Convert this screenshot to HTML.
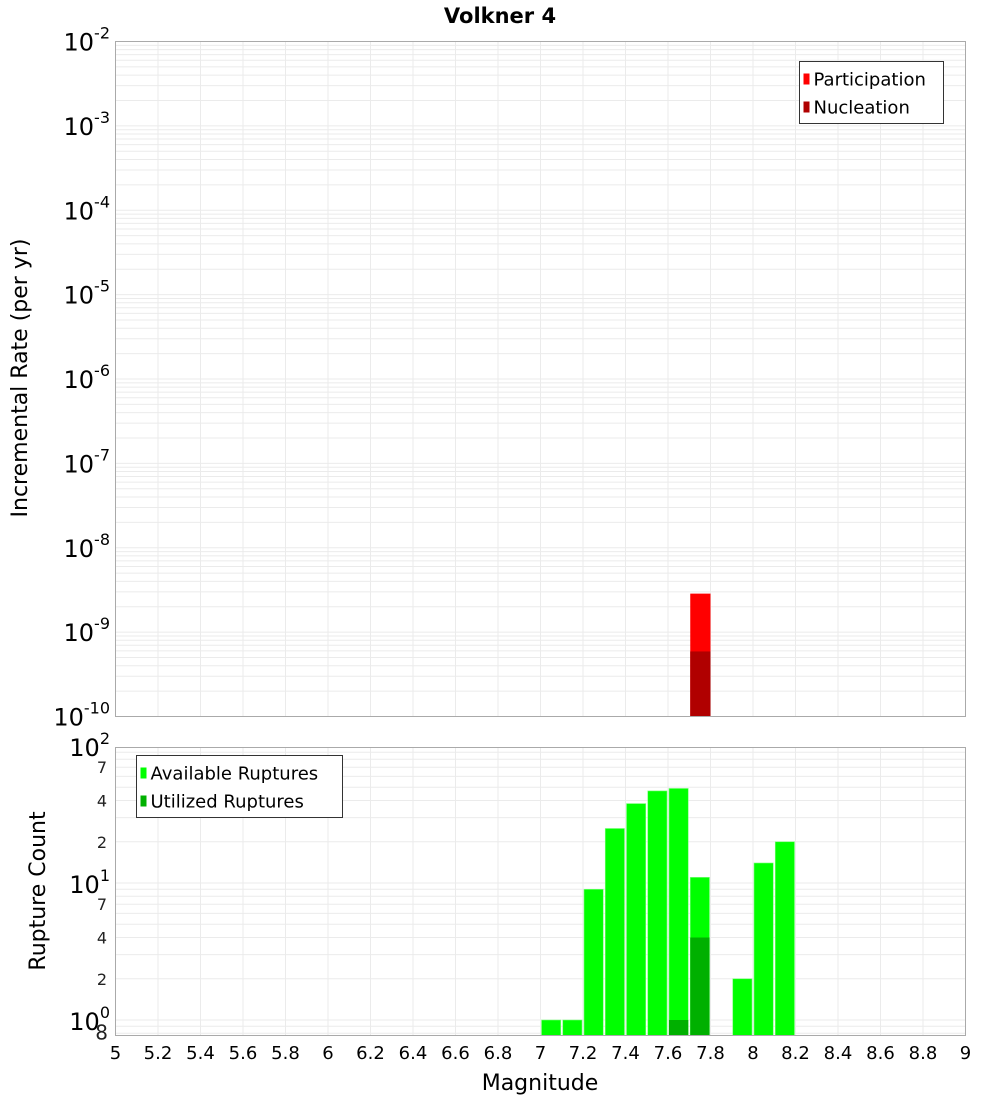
<!DOCTYPE html>
<html><head><meta charset="utf-8"><style>
body{margin:0;background:#fff;}
svg{display:block;font-family:"DejaVu Sans","Liberation Sans",sans-serif;}
</style></head><body>
<svg id="chart" width="1000" height="1100" xmlns="http://www.w3.org/2000/svg">
<text x="500" y="23" text-anchor="middle" font-size="21" font-weight="bold">Volkner 4</text>
<text transform="translate(27,378) rotate(-90)" text-anchor="middle" font-size="22">Incremental Rate (per yr)</text>
<text transform="translate(45,891) rotate(-90)" text-anchor="middle" font-size="22">Rupture Count</text>
<text x="540" y="1090" text-anchor="middle" font-size="22">Magnitude</text>
<g id="g"></g>
</svg>
<script>
const binStarts=[7.0,7.1,7.2,7.3,7.4,7.5,7.6,7.7,7.8,7.9,8.0,8.1];
const available=[1,1,9,25,38,47,49,11,0,2,14,20];
const utilized=[0,0,0,0,0,0,1,4,0,0,0,0];
const rateBins=[7.7];
const participation=[2.86e-9];
const nucleation=[5.9e-10];
const xTicks=[5,5.2,5.4,5.6,5.8,6,6.2,6.4,6.6,6.8,7,7.2,7.4,7.6,7.8,8,8.2,8.4,8.6,8.8,9];
const topDecades=[-2,-3,-4,-5,-6,-7,-8,-9,-10];
const botMinorLabels=[2,4,7];

const NS="http://www.w3.org/2000/svg";
const g=document.getElementById('g');
function el(t,a,p){const e=document.createElementNS(NS,t);for(const k in a)e.setAttribute(k,a[k]);(p||g).appendChild(e);return e;}
const L=115.5,R=965.5;
const X=v=>L+(v-5)/4*(R-L);
const T0=41.5,T1=716.5;
const YT=v=>T1-(Math.log10(v)+10)/8*(T1-T0);
const B0=747.5,B1=1035.5;
const YB=v=>1020-Math.log10(v)*137;

// grids
for(const t of xTicks){
  for(const [a,b] of [[T0,T1],[B0,B1]]){
    const l=el('line',{x1:X(t),x2:X(t),y1:a,y2:b,stroke:'#ebebeb'});
    
    
  }
}
for(let d=-10;d<-2;d++){for(let m=1;m<10;m++){const y=YT(m*Math.pow(10,d));
  const l=el('line',{x1:L,x2:R,y1:y,y2:y,stroke:'#ebebeb'});
  
  }}
for(let d=-1;d<2;d++){for(let m=1;m<10;m++){const v=m*Math.pow(10,d);const y=YB(v);if(y>B1||y<B0)continue;
  const l=el('line',{x1:L,x2:R,y1:y,y2:y,stroke:'#ebebeb'});
  
  }}

// top bars
rateBins.forEach((b,i)=>{
  const x=X(b)+1,w=X(b+0.1)-X(b)-1;
  const p=el('rect',{x:x,y:YT(participation[i]),width:w,height:T1-YT(participation[i]),fill:'#ff0000'});
  
  
  const n=el('rect',{x:x,y:YT(nucleation[i]),width:w,height:T1-YT(nucleation[i]),fill:'#b00000'});
  
  
});
// bottom bars
binStarts.forEach((b,i)=>{
  const x=X(b)+1,w=X(b+0.1)-X(b)-2;
  if(available[i]>0){const y=YB(available[i]);
    const r=el('rect',{x:x,y:y,width:w,height:B1-y,fill:'#00ff00',stroke:'#7fff7f','stroke-width':0.6});
    
    }
  if(utilized[i]>0){const y=YB(utilized[i]);
    const r=el('rect',{x:x,y:y,width:w,height:B1-y,fill:'#00b000'});
    
    }
});
// frames
const f1=el('rect',{x:L,y:T0,width:R-L,height:T1-T0,fill:'none',stroke:'#aaa'});


const f2=el('rect',{x:L,y:B0,width:R-L,height:B1-B0,fill:'none',stroke:'#aaa'});



// top y labels
topDecades.forEach(d=>{
  const y=YT(Math.pow(10,d));
  const t=el('text',{x:110,y:y+9,'text-anchor':'end','font-size':24});
  
  
  t.innerHTML='10<tspan dy="-12" font-size="16">'+d+'</tspan>';
});
// bottom y labels
[0,1,2].forEach(d=>{
  const y=YB(Math.pow(10,d));
  const t=el('text',{x:110,y:y+10,'text-anchor':'end','font-size':24});
  
  
  t.innerHTML='10<tspan dy="-12" font-size="16">'+d+'</tspan>';
});
[0.8].concat([0,1].flatMap(d=>botMinorLabels.map(m=>m*Math.pow(10,d)))).forEach(v=>{
  const y=YB(v);if(y<B0)return;
  const s=v<1?'8':String(v<10?v:v/10);
  const t=el('text',{x:v<1?108:107,y:y+6,'text-anchor':'end','font-size':v<1?20:16,fill:'#222'});
  
  
  t.textContent=s;
});
// x labels
xTicks.forEach(t=>{
  const e=el('text',{x:X(t),y:1059,'text-anchor':'middle','font-size':18});
  
  
  e.textContent=String(t);
});
// legends
function legend(x,y,w,items,name){
  const gg=el('g',{});
  
  
  el('rect',{x:x,y:y,width:w,height:items.length*28+6,fill:'#fff',stroke:'#333'},gg);
  items.forEach((it,i)=>{
    el('rect',{x:x+4,y:y+12+i*28,width:6,height:11,fill:it[1]},gg);
    const t=el('text',{x:x+14,y:y+24+i*28,'font-size':18},gg);
    t.textContent=it[0];
  });
}
legend(799.5,61.5,144,[['Participation','#ff0000'],['Nucleation','#b00000']],'legend-top');
legend(136.5,755.5,206,[['Available Ruptures','#00ff00'],['Utilized Ruptures','#00b000']],'legend-bottom');
</script>
</body></html>
